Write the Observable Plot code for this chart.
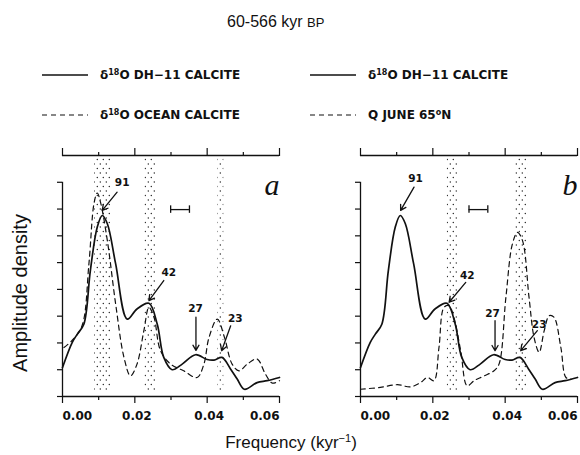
<!DOCTYPE html>
<html><head><meta charset="utf-8">
<script src="https://cdn.jsdelivr.net/npm/d3@7"></script>
<script src="https://cdn.jsdelivr.net/npm/@observablehq/plot@0.6"></script>
<style>
body{margin:0;background:#fff;}
#root{position:relative;width:580px;height:455px;background:#fff;font-family:"Liberation Sans",Arial,sans-serif;color:#111;}
.abs{position:absolute;white-space:nowrap;line-height:1;}
.leg{font-family:"DejaVu Sans",sans-serif;font-weight:bold;font-size:12px;}
.leg sup{font-size:8px;vertical-align:4px;}
</style>
</head><body>
<svg width="0" height="0" style="position:absolute">
  <defs>
    <pattern id="stipple" width="6" height="9" patternUnits="userSpaceOnUse">
      <circle cx="1.3" cy="1.5" r="0.7" fill="#222"/>
      <circle cx="4.3" cy="6" r="0.7" fill="#222"/>
    </pattern>
  </defs>
</svg>
<div id="root">
  <div class="abs" style="left:227px;top:14px;font-size:16px;">60-566 kyr <span style="font-size:13px">BP</span></div>
  <div id="legend"></div>
  <div id="pa" class="abs" style="left:0;top:140px;"></div>
  <div id="pb" class="abs" style="left:290px;top:140px;"></div>
  <div class="abs" style="left:20px;top:293px;font-size:20px;transform:translate(-50%,-50%) rotate(-90deg);">Amplitude density</div>
  <div class="abs" style="left:291px;top:442px;font-size:17px;transform:translate(-50%,-50%);">Frequency (kyr<sup style="font-size:11px">−1</sup>)</div>
</div>
<script>
// ---- data ----
const title = "60-566 kyr BP";
const legendLeft = [["solid","δ","18","O DH−11 CALCITE"],["dashed","δ","18","O OCEAN CALCITE"]];
const legendRight = [["solid","δ","18","O DH−11 CALCITE"],["dashed","Q JUNE 65","o","N"]];

const majorTicks = [0, 0.02, 0.04, 0.06];
const minorTicks = [0.01, 0.03, 0.05];
const tickLabels = ["0.00", "0.02", "0.04", "0.06"];
const yTicks = [0, 1, 2, 3, 4, 5, 6, 7, 8];

// δ18O DH-11 calcite (solid, both panels)
const dh11Freq = [0, 0.0027, 0.0041, 0.0059, 0.0077, 0.0096, 0.011, 0.0124, 0.0147, 0.0179, 0.0206, 0.0239, 0.0262, 0.028, 0.0303, 0.0331, 0.0368, 0.04, 0.0419, 0.0441, 0.0465, 0.0483, 0.0503, 0.0538, 0.0566, 0.06];
const dh11Amp  = [1.08, 2.02, 2.33, 2.7, 4.7, 6.32, 6.76, 6.45, 4.95, 2.89, 3.27, 3.48, 2.7, 1.46, 1.0, 1.21, 1.56, 1.38, 1.36, 1.46, 1.02, 0.65, 0.27, 0.52, 0.59, 0.71];

// δ18O ocean calcite (dashed, panel a)
const oceanFreq = [0.0004, 0.0027, 0.0054, 0.0073, 0.0087, 0.0096, 0.0105, 0.0124, 0.0147, 0.017, 0.0188, 0.0206, 0.0225, 0.0239, 0.0253, 0.0271, 0.0299, 0.0335, 0.0372, 0.0391, 0.0405, 0.0428, 0.0448, 0.0469, 0.0488, 0.0511, 0.0538, 0.0561, 0.058, 0.06];
const oceanAmp  = [1.83, 2.1, 2.64, 4.95, 7.2, 7.6, 7.26, 5.82, 3.45, 1.46, 0.77, 1.21, 2.46, 3.33, 2.96, 1.71, 1.21, 0.96, 0.71, 1.21, 2.2, 2.89, 2.2, 1.21, 0.96, 1.21, 1.4, 0.84, 0.5, 0.59];

// Q June 65N insolation (dashed, panel b)
const insolFreq = [0, 0.0055, 0.0102, 0.0138, 0.0166, 0.0185, 0.0203, 0.0217, 0.0231, 0.0245, 0.0258, 0.0277, 0.0295, 0.0314, 0.0342, 0.0369, 0.0383, 0.0402, 0.042, 0.0434, 0.0448, 0.0466, 0.048, 0.0494, 0.0508, 0.0522, 0.0535, 0.0554, 0.0568, 0.0582];
const insolAmp  = [0.27, 0.34, 0.44, 0.36, 0.52, 0.71, 0.59, 1.83, 3.33, 3.39, 2.96, 1.71, 0.4, 0.59, 0.77, 0.96, 1.21, 3.7, 5.7, 6.13, 5.82, 3.7, 2.2, 1.65, 2.46, 3.02, 2.96, 1.83, 0.71, 0.65];

const bandsA = [[0.0089, 0.0133], [0.0228, 0.0258], [0.043, 0.0446]];
const bandsB = [[0.024, 0.0268], [0.0429, 0.0462]];
const errBarA = [0.0299, 0.0351, 6.98];
const errBarB = [0.0300, 0.0352, 6.98];

// label, text x, text y, arrow x1, y1, x2, y2
const peaksA = [
  ["91", 0.0165, 8.0, 0.0151, 7.63, 0.011, 6.95],
  ["42", 0.0294, 4.64, 0.028, 4.33, 0.0239, 3.58],
  ["27", 0.0368, 3.27, 0.0369, 2.96, 0.0369, 1.72],
  ["23", 0.0478, 2.89, 0.0465, 2.64, 0.044, 1.71]
];
const peaksB = [
  ["91", 0.0152, 8.13, 0.0148, 7.82, 0.0111, 6.95],
  ["42", 0.0295, 4.51, 0.0291, 4.26, 0.0245, 3.52],
  ["27", 0.0365, 3.08, 0.0372, 2.83, 0.0372, 1.71],
  ["23", 0.0494, 2.7, 0.0489, 2.46, 0.0443, 1.71]
];

// ---- legend (HTML) ----
function legendItem(item, left, top) {
  const [style, a, sup, b] = item;
  const dash = style === "dashed" ? 'stroke-dasharray="5,4"' : "";
  const sw = style === "dashed" ? 1.1 : 1.4;
  const el = document.createElement("div");
  el.className = "abs leg";
  el.style.left = left + "px";
  el.style.top = top + "px";
  el.innerHTML = `<svg width="48" height="10" style="vertical-align:middle;margin-right:10px"><line x1="0" x2="46" y1="5" y2="5" stroke="#111" stroke-width="${sw}" ${dash}/></svg><span style="vertical-align:middle">${a}<sup>${sup}</sup>${b}</span>`;
  document.getElementById("legend").appendChild(el);
}
legendLeft.forEach((d, i) => legendItem(d, 42, 68 + i * 40));
legendRight.forEach((d, i) => legendItem(d, 310, 68 + i * 40));

// ---- panels ----
function panel(dFreq, dAmp, bands, err, peaks, letter, ml, mr) {
  const solid = dh11Freq.map((f, i) => ({f, a: dh11Amp[i]}));
  const dashed = dFreq.map((f, i) => ({f, a: dAmp[i]}));
  const bandData = bands.map(([x1, x2]) => ({x1, x2}));
  const peakData = peaks.map(([label, x, y, x1, y1, x2, y2]) => ({label, x, y, x1, y1, x2, y2}));
  const tickData = majorTicks.map((v, i) => ({v, label: tickLabels[i]}));
  const errData = [{x1: err[0], x2: err[1], y: err[2]}];
  const noText = () => "";
  const tf = {fontFamily: "DejaVu Sans", fontWeight: "bold", fontSize: 12};
  return Plot.plot({
    width: 290, height: 300,
    marginLeft: ml, marginRight: mr, marginTop: 15, marginBottom: 44,
    x: {domain: [0, 0.06], axis: null},
    y: {domain: [0, 9], axis: null},
    style: {background: "transparent", overflow: "visible", color: "#111"},
    marks: [
      Plot.rect(bandData, {x1: "x1", x2: "x2", y1: 0.15, y2: 9, fill: "url(#stipple)"}),
      Plot.line(dashed, {x: "f", y: "a", curve: "catmull-rom", stroke: "#111", strokeWidth: 1.2, strokeDasharray: "5,4"}),
      Plot.line(solid, {x: "f", y: "a", curve: "catmull-rom", stroke: "#111", strokeWidth: 1.7}),
      Plot.ruleY([9], {stroke: "#111", strokeWidth: 1.3}),
      Plot.ruleY([0], {stroke: "#111", strokeWidth: 1.3}),
      Plot.ruleX([0], {y1: 0, y2: 8, stroke: "#111", strokeWidth: 1.3}),
      Plot.axisX({anchor: "top", ticks: majorTicks, tickSize: 8, tickFormat: noText, label: null, strokeWidth: 1.2}),
      Plot.axisX({anchor: "top", ticks: minorTicks, tickSize: 4, tickFormat: noText, label: null, strokeWidth: 1.2}),
      Plot.axisX({anchor: "bottom", ticks: majorTicks, tickSize: 7, tickFormat: noText, label: null, strokeWidth: 1.2}),
      Plot.axisX({anchor: "bottom", ticks: minorTicks, tickSize: 4, tickFormat: noText, label: null, strokeWidth: 1.2}),
      Plot.axisY({anchor: "left", ticks: yTicks, tickSize: 5, tickFormat: noText, label: null, strokeWidth: 1.2}),
      Plot.text(tickData.slice(0, 1), {x: "v", y: 0, text: "label", dy: 20, textAnchor: "start", ...tf}),
      Plot.text(tickData.slice(1, 3), {x: "v", y: 0, text: "label", dy: 20, dx: 2, textAnchor: "middle", ...tf}),
      Plot.text(tickData.slice(3), {x: "v", y: 0, text: "label", dy: 20, textAnchor: "end", ...tf}),
      Plot.ruleY(errData, {x1: "x1", x2: "x2", y: "y", stroke: "#111", strokeWidth: 1.3}),
      Plot.ruleX(errData, {x: "x1", y1: d => d.y - 0.14, y2: d => d.y + 0.14, stroke: "#111", strokeWidth: 1.3}),
      Plot.ruleX(errData, {x: "x2", y1: d => d.y - 0.14, y2: d => d.y + 0.14, stroke: "#111", strokeWidth: 1.3}),
      Plot.arrow(peakData, {x1: "x1", y1: "y1", x2: "x2", y2: "y2", stroke: "#111", strokeWidth: 1.3, headLength: 7}),
      Plot.text(peakData, {x: "x", y: "y", text: "label", fontFamily: "DejaVu Sans", fontWeight: "bold", fontSize: 10.5}),
      Plot.text([letter], {x: 0.06, y: 7.9, text: d => d, textAnchor: "end", fontFamily: "Liberation Serif", fontStyle: "italic", fontSize: 30})
    ]
  });
}

document.getElementById("pa").appendChild(panel(oceanFreq, oceanAmp, bandsA, errBarA, peaksA, "a", 62, 11));
document.getElementById("pb").appendChild(panel(insolFreq, insolAmp, bandsB, errBarB, peaksB, "b", 70, 3));
</script>
</body></html>
